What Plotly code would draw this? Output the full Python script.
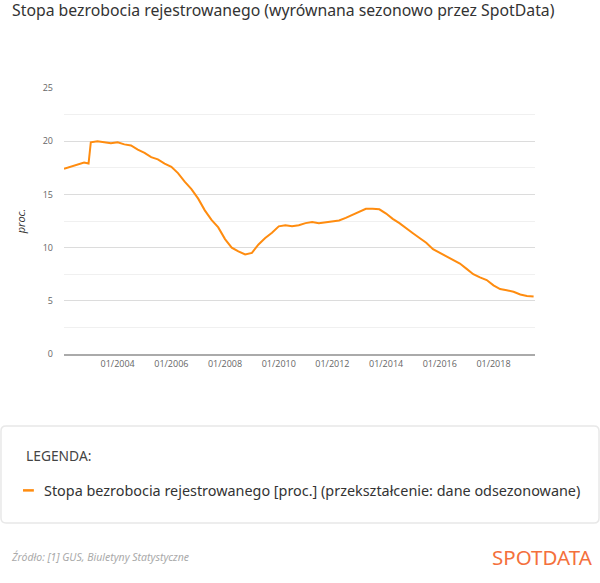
import plotly.graph_objects as go

# --- data (monthly labels, approx. quarterly samples) ---
months = [
    "2002-01", "2002-04", "2002-07", "2002-10", "2002-12",
    "2003-01", "2003-04", "2003-07", "2003-10",
    "2004-01", "2004-04", "2004-07", "2004-10",
    "2005-01", "2005-04", "2005-07", "2005-10",
    "2006-01", "2006-04", "2006-07", "2006-10",
    "2007-01", "2007-04", "2007-07", "2007-10",
    "2008-01", "2008-04", "2008-07", "2008-10",
    "2009-01", "2009-04", "2009-07", "2009-10",
    "2010-01", "2010-04", "2010-07", "2010-10",
    "2011-01", "2011-04", "2011-07", "2011-10",
    "2012-01", "2012-04", "2012-07", "2012-10",
    "2013-01", "2013-04", "2013-07", "2013-10",
    "2014-01", "2014-04", "2014-07", "2014-10",
    "2015-01", "2015-04", "2015-07", "2015-10",
    "2016-01", "2016-04", "2016-07", "2016-10",
    "2017-01", "2017-04", "2017-07", "2017-10",
    "2018-01", "2018-04", "2018-07", "2018-10",
    "2019-01", "2019-04", "2019-07",
]
rate = [
    17.4, 17.6, 17.8, 18.0, 17.9,
    19.9, 20.0, 19.9, 19.8,
    19.9, 19.7, 19.6, 19.2,
    18.9, 18.5, 18.3, 17.9,
    17.6, 17.0, 16.2, 15.5,
    14.6, 13.5, 12.6, 11.9,
    10.8, 10.0, 9.65, 9.35,
    9.5, 10.3, 10.9, 11.4,
    12.0, 12.1, 12.0, 12.1,
    12.3, 12.4, 12.3, 12.4,
    12.43, 12.55, 12.8, 13.1,
    13.4, 13.65, 13.65, 13.6,
    13.2, 12.7, 12.3, 11.8,
    11.35, 10.9, 10.45, 9.85,
    9.5, 9.2, 8.8, 8.5,
    8.0, 7.5, 7.2, 6.95,
    6.45, 6.1, 6.0, 5.85,
    5.6, 5.45, 5.4,
]

series_name = "Stopa bezrobocia rejestrowanego [proc.] (przekształcenie: dane odsezonowane)"
title_text = "Stopa bezrobocia rejestrowanego (wyrównana sezonowo przez SpotData)"
source_text = "Źródło: [1] GUS, Biuletyny Statystyczne"

ORANGE = "#ff8c0f"

fig = go.Figure(
    go.Scatter(
        x=months,
        y=rate,
        mode="lines",
        name=series_name,
        line=dict(color=ORANGE, width=2),
        showlegend=False,
    )
)

fig.update_layout(
    width=600,
    height=583,
    plot_bgcolor="white",
    paper_bgcolor="white",
    margin=dict(l=64, r=65, t=88, b=229),
    font=dict(family="Open Sans", color="#666"),
    title=dict(
        text=title_text,
        x=0.02, xanchor="left", xref="container",
        y=0.991, yanchor="top", yref="container",
        font=dict(family="Noto Sans", size=15.8, color="#333"),
    ),
    xaxis=dict(
        range=["2002-01-01", "2019-07-20"],
        tickvals=["2004-01-01", "2006-01-01", "2008-01-01", "2010-01-01",
                  "2012-01-01", "2014-01-01", "2016-01-01", "2018-01-01"],
        tickformat="%m/%Y",
        tickfont=dict(size=9, color="#666"),
        showgrid=False,
        showline=True,
        linecolor="#aaa",
        linewidth=2,
        ticks="",
        zeroline=False,
        automargin=False,
    ),
    yaxis=dict(
        range=[0, 25],
        dtick=5,
        tickfont=dict(size=9, color="#666"),
        gridcolor="#dcdcdc",
        gridwidth=1,
        zeroline=False,
        ticks="",
        ticklabelstandoff=10,
        automargin=False,
        minor=dict(dtick=2.5, showgrid=True, gridcolor="#f0f0f0", gridwidth=1),
        title=dict(text="<i>proc.</i>", font=dict(size=11, color="#333"), standoff=14),
    ),
)

# legend panel with rounded corners (paper coords, ~5px radius)
x0, x1, y0, y1 = -0.1338, 1.1359, -0.635, -0.2707
rx, ry = 0.0106, 0.0188
panel = (
    f"M {x0 + rx},{y1} L {x1 - rx},{y1} Q {x1},{y1} {x1},{y1 - ry} "
    f"L {x1},{y0 + ry} Q {x1},{y0} {x1 - rx},{y0} "
    f"L {x0 + rx},{y0} Q {x0},{y0} {x0},{y0 + ry} "
    f"L {x0},{y1 - ry} Q {x0},{y1} {x0 + rx},{y1} Z"
)
fig.add_shape(
    type="path", xref="paper", yref="paper", path=panel,
    line=dict(color="#e8e8e8", width=1.5), fillcolor="white", layer="below",
)
fig.add_annotation(
    text="LEGENDA:", xref="paper", yref="paper",
    x=-0.085, y=-0.381, xanchor="left", yanchor="middle", showarrow=False,
    font=dict(family="Noto Sans", size=13.8, color="#444"),
)
fig.add_shape(
    type="line", xref="paper", yref="paper",
    x0=-0.087, x1=-0.064, y0=-0.5127, y1=-0.5127,
    line=dict(color=ORANGE, width=2.5),
)
fig.add_annotation(
    text=series_name, xref="paper", yref="paper",
    x=-0.047, y=-0.5127, xanchor="left", yanchor="middle", showarrow=False,
    font=dict(family="Noto Sans", size=14.4, color="#333"),
)

# footer
fig.add_annotation(
    text="<i>" + source_text + "</i>", xref="paper", yref="paper",
    x=-0.117, y=-0.763, xanchor="left", yanchor="middle", showarrow=False,
    font=dict(family="Noto Sans", size=10.5, color="#aaa"),
)
fig.add_annotation(
    text="SPOTDATA", xref="paper", yref="paper",
    x=1.127, y=-0.763, xanchor="right", yanchor="middle", showarrow=False,
    font=dict(family="Noto Sans", size=20.5, color="#f4703c"),
)

# drop the default 8px body margin so the figure fills the window
fig.write_html(
    "out.html",
    config={"displayModeBar": False},
    post_script="document.body.style.margin='0';",
)
